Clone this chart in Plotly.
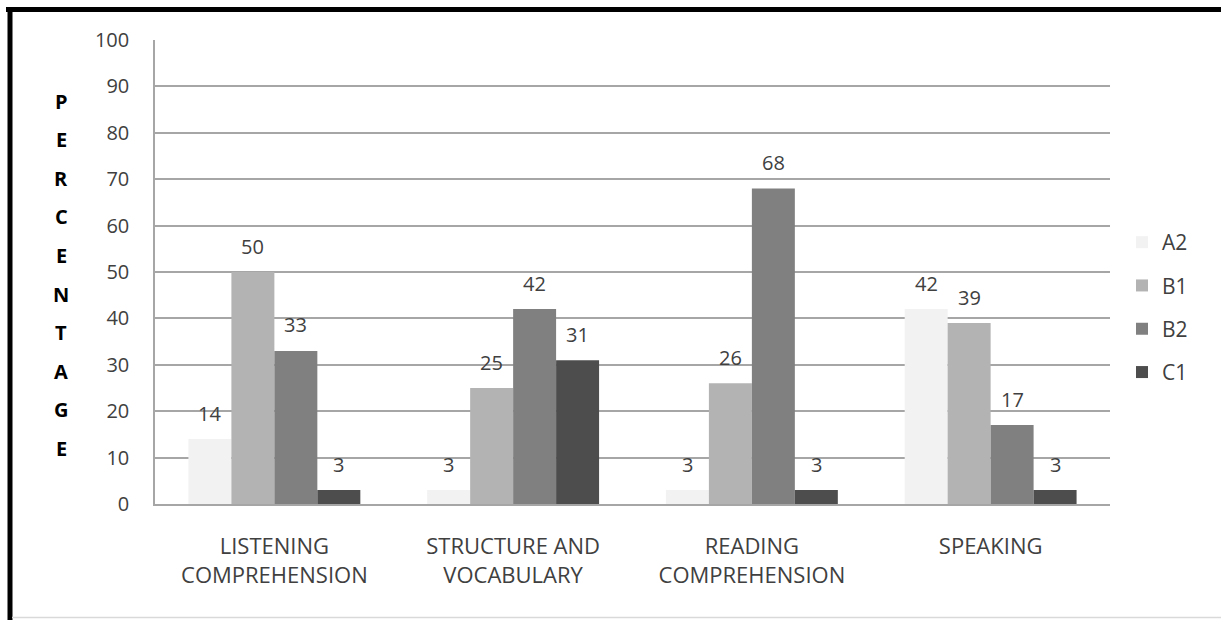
import plotly.graph_objects as go

# Skill areas and CEFR level shares (percent of students)
categories = [
    "LISTENING<br>COMPREHENSION",
    "STRUCTURE AND<br>VOCABULARY",
    "READING<br>COMPREHENSION",
    "SPEAKING",
]
levels = ["A2", "B1", "B2", "C1"]
a2 = [14, 3, 3, 42]
b1 = [50, 25, 26, 39]
b2 = [33, 42, 68, 17]
c1 = [3, 31, 3, 3]
y_ticks = [0, 10, 20, 30, 40, 50, 60, 70, 80, 90, 100]

series = [a2, b1, b2, c1]
colors = ["#f2f2f2", "#b3b3b3", "#808080", "#4d4d4d"]

FONT = "Open Sans"
TXT = "#404040"

W, H = 1221, 620
ML, MR, MT, MB = 155, 111, 40, 116
PW, PH = W - ML - MR, H - MT - MB


def px_x(px):
    return (px - ML) / PW


def px_y(py):
    return (H - MB - py) / PH


fig = go.Figure()
for i, (name, vals, col) in enumerate(zip(levels, series, colors)):
    fig.add_trace(go.Bar(
        x=categories, y=vals, name=name,
        marker=dict(color=col, line=dict(width=0)),
        legendgroup=name,
    ))

# value labels above each bar
bar_px = 43
for i, vals in enumerate(series):
    offset = (i - 1.5) * bar_px
    for cat, v in zip(categories, vals):
        fig.add_annotation(
            x=cat, y=v, text=str(v), showarrow=False,
            xshift=offset, yshift=26,
            xanchor="center", yanchor="middle",
            font=dict(family=FONT, size=20, color=TXT),
        )

# vertical axis title, one letter per line
title_letters = list("PERCENTAGE")
for k, ch in enumerate(title_letters):
    fig.add_annotation(
        xref="paper", yref="paper",
        x=px_x(61), y=px_y(101 + k * 38.6),
        xanchor="center", yanchor="middle",
        text=f"<b>{ch}</b>", showarrow=False,
        font=dict(family=FONT, size=20, color="#000000"),
    )

# outer frame
fig.add_shape(type="line", xref="paper", yref="paper",
              x0=px_x(6), x1=px_x(W), y0=px_y(9.5), y1=px_y(9.5),
              line=dict(color="#000000", width=5))
fig.add_shape(type="line", xref="paper", yref="paper",
              x0=px_x(10), x1=px_x(10), y0=px_y(7), y1=px_y(H),
              line=dict(color="#000000", width=5))
fig.add_shape(type="line", xref="paper", yref="paper",
              x0=px_x(12), x1=px_x(W), y0=px_y(617.5), y1=px_y(617.5),
              line=dict(color="#d9d9d9", width=1.5))

fig.update_layout(
    width=W, height=H,
    margin=dict(l=ML, r=MR, t=MT, b=MB),
    paper_bgcolor="white", plot_bgcolor="white",
    barmode="group", bargap=0.28, bargroupgap=0,
    showlegend=True,
    legend=dict(
        x=px_x(1122), y=px_y(222), xanchor="left", yanchor="top",
        font=dict(family=FONT, size=21, color=TXT),
        tracegroupgap=13, bgcolor="rgba(0,0,0,0)",
    ),
    font=dict(family=FONT, size=20, color=TXT),
)
fig.update_xaxes(
    showline=True, linecolor="#a6a6a6", linewidth=1.5,
    showgrid=False, ticks="", ticklabelstandoff=22,
    tickfont=dict(family=FONT, size=22, color=TXT),
)
fig.update_yaxes(
    range=[0, 100], tickvals=y_ticks,
    showline=True, linecolor="#a6a6a6", linewidth=1.5,
    showgrid=True, gridcolor="#a6a6a6", gridwidth=1.5,
    zeroline=False, ticks="", ticklabelstandoff=20,
    tickfont=dict(family=FONT, size=20, color=TXT),
)

fig.write_html("out.html")
